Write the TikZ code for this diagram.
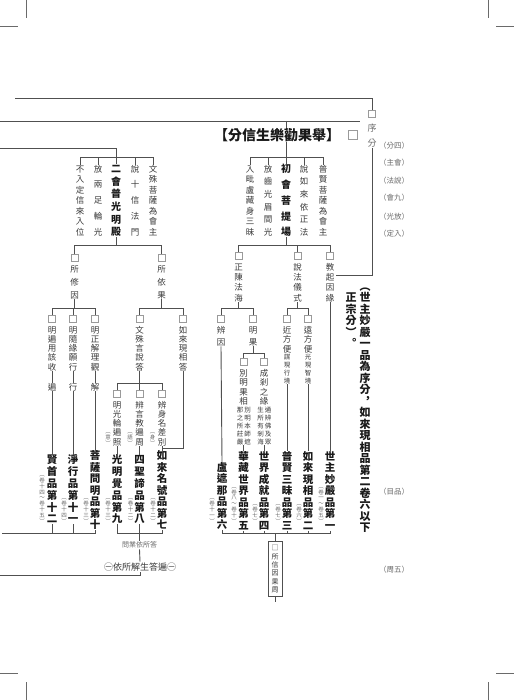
\documentclass[tikz,border=0pt]{standalone}
\usepackage{fontspec}
\usepackage{tikz}
\usetikzlibrary{positioning}
\newfontfamily\cjk{Noto Sans CJK TC}
\definecolor{lineGray}{HTML}{505050}
\definecolor{textGray}{HTML}{3A3A3A}
\definecolor{noteGray}{HTML}{6A6A6A}
\definecolor{boxGray}{HTML}{9A9A9A}

% vertical text: one character per line
\newcommand\vtstrut{\rule[-0.12em]{0pt}{1em}}
\newcommand\vt[1]{\vtaux#1\relax}
\def\vtaux#1#2{#1\vtstrut\ifx\relax#2\expandafter\vtgobble\else\expandafter\vtnext\fi#2}
\def\vtnext{\\\vtaux}
\def\vtgobble#1{}

\begin{document}
\begin{tikzpicture}[x=1pt, y=-1pt,
    link/.style={draw=lineGray, line width=0.9pt},
    cropline/.style={draw=noteGray, line width=0.6pt},
    sq/.style={draw=boxGray, line width=0.6pt, minimum size=7pt, inner sep=0pt},
    txt/.style={font=\cjk\fontsize{8.5}{#1}\selectfont, text=textGray, align=center, inner sep=0pt},
    txt/.default=10,
    subtxt/.style={font=\cjk\fontsize{6.5}{#1}\selectfont, text=textGray, align=center, inner sep=0pt},
    subtxt/.default=8,
    htxt/.style={font=\cjk\bfseries\fontsize{10}{#1}\selectfont, text=black!90, align=center, inner sep=0pt},
    pintxt/.style={font=\cjk\bfseries\fontsize{10.5}{#1}\selectfont, text=black!90, align=center, inner sep=0pt},
    notetxt/.style={font=\cjk\fontsize{5.5}{#1}\selectfont, text=noteGray, align=center, inner sep=0pt, anchor=south},
    notetxt/.default=5.8,
    bigtxt/.style={font=\cjk\bfseries\fontsize{11}{#1}\selectfont, text=black!90, align=center, inner sep=0pt},
    sidenote/.style={font=\cjk\fontsize{7.5}{8}\selectfont, text=noteGray, inner sep=0pt},
    titletxt/.style={font=\cjk\bfseries\fontsize{14}{16}\selectfont, text=black!90, inner sep=0pt}]

  \fill[white] (0,0) rectangle (514,700);
  \useasboundingbox (0,0) rectangle (514,700);

  % crop marks
  \draw[cropline] (0,26) -- (18,26);
  \draw[cropline] (26,0) -- (26,18);
  \draw[cropline] (488,0) -- (488,18);
  \draw[cropline] (496,26) -- (514,26);
  \draw[cropline] (0,673) -- (18,673);
  \draw[cropline] (26,682) -- (26,700);
  \draw[cropline] (496,673) -- (514,673);
  \draw[cropline] (488,682) -- (488,700);

  % levels
  \coordinate (topA) at (15,98);
  \coordinate (lineB) at (0,121);
  \coordinate (lineBend) at (360,121);
  \coordinate (lineC) at (0,148);
  \coordinate (lvA) at (0,157);
  \coordinate (lvB) at (0,245);
  \coordinate (lvC) at (0,308.5);
  \coordinate (lvE) at (0,353);
  \coordinate (lvD) at (0,383);
  \coordinate (lvF) at (0,533);
  \coordinate (lvFl) at (2,533);
  \coordinate (lineG) at (0,575);
  \coordinate (suoEnd) at (275,602);

  % xu fen
  \node[txt=15, font=\cjk\fontsize{9}{15}\selectfont, text=noteGray] (xufen) at (372,135.5) {\vt{序分}};
  \node[sq, above=6pt of xufen] (xuB) {};
  \foreach \t/\yy [count=\i] in {（分四）/146,（主會）/163,（法說）/181,（會九）/198,
                                 （光放）/217,（定入）/234,（目品）/492,（周五）/570}
    \node[sidenote] (side\i) at (394,\yy) {\t};

  \node[titletxt] (juguo) at (277,135) {【分信生樂勸果舉】};
  \node[sq, minimum size=9pt] (juguoB) at (353,135) {};

  % chu hui
  \node[txt=10.5] (chuA) at (250,200.5) {\vt{入毗盧藏身三昧}};
  \node[txt=12.6] (chuB) at (268,200.5) {\vt{放齒光眉間光}};
  \node[htxt=15.75] (chuhui) at (286,200.5) {\vt{初會菩提場}};
  \node[txt=12.6] (chuD) at (304,200.5) {\vt{說如來依正法}};
  \node[txt=10.5] (chuE) at (323,200.5) {\vt{普賢菩薩為會主}};

  % er hui
  \node[txt=10.5] (erA) at (80,200.5) {\vt{不入定信來入位}};
  \node[txt=15.75] (erB) at (98,200.5) {\vt{放兩足輪光}};
  \node[htxt=12.6] (erhui) at (116,200.5) {\vt{二會普光明殿}};
  \node[txt=15.75] (erD) at (135,200.5) {\vt{說十信法門}};
  \node[txt=10.5] (erE) at (153,200.5) {\vt{文殊菩薩為會主}};

  % third level
  \node[txt=13] (xiuyin) at (74.5,282) {\vt{所修因}};
  \node[txt=13] (yiguo) at (161.5,282) {\vt{所依果}};
  \node[txt=10.33] (zhengchen) at (238.5,282.5) {\vt{正陳法海}};
  \node[txt=10.33] (shuofa) at (297.5,282.5) {\vt{說法儀式}};
  \node[txt=10.33] (jiaoqi) at (330,282.5) {\vt{教起因緣}};
  \foreach \n in {xiuyin,yiguo,zhengchen,shuofa,jiaoqi}
    \node[sq, above=3pt of \n] (\n B) {};

  % fourth level
  \node[txt=9.25] (mingbian) at (52,348.5) {\vt{明遍用該收}};
  \node[txt=9.25] (mingsui) at (73,348.5) {\vt{明隨緣願行}};
  \node[txt=9.25] (mingzheng) at (95,348.5) {\vt{明正解理觀}};
  \node[txt] (bianC) at (52,387) {\vt{遍}};
  \node[txt] (xingC) at (73,387) {\vt{行}};
  \node[txt] (jieC) at (95,387) {\vt{解}};
  \node[txt=9.25] (wenshu) at (139.5,348.5) {\vt{文殊言說答}};
  \node[txt=9.25] (xianxiang) at (183,348.5) {\vt{如來現相答}};
  \node[txt=12] (bianyin) at (221,336) {\vt{辨因}};
  \node[txt=12] (mingguo) at (253,336) {\vt{明果}};
  \node[txt=9.5] (jinfang) at (287,339.5) {\vt{近方便}};
  \node[subtxt] (jinS) at (287,369) {\vt{謀現行境}};
  \node[txt=9.5] (yuanfang) at (308,339.5) {\vt{遠方便}};
  \node[subtxt] (yuanS) at (308,369) {\vt{光現智境}};
  \foreach \n in {mingbian,mingsui,mingzheng,wenshu,xianxiang,bianyin,mingguo,jinfang,yuanfang}
    \node[sq, above=3pt of \n] (\n B) {};

  % fifth level
  \node[txt=9.25] (guanglun) at (117,423.5) {\vt{明光輪遍照}};
  \node[txt=9.25] (yanjiao) at (139.5,423.5) {\vt{辨言教遍周}};
  \node[txt=9.25] (shenming) at (162,423.5) {\vt{辨身名差別}};
  \node[notetxt=6, anchor=center] (yiN) at (108,437.5) {\vt{︵意︶}};
  \node[notetxt=6, anchor=center] (yuN) at (130,437.5) {\vt{︵語︶}};
  \node[notetxt=6, anchor=center] (shenN) at (152.5,437.5) {\vt{︵身︶}};
  \node[txt=8.33] (bieming) at (243.5,387.5) {\vt{別明果相}};
  \node[subtxt] (biemingR) at (247.5,426) {\vt{別明本師遮}};
  \node[subtxt] (biemingL) at (240,426) {\vt{那之所莊嚴}};
  \node[txt=8.33] (chengcha) at (264,387.5) {\vt{成剎之緣}};
  \node[subtxt] (chengchaR) at (268,426) {\vt{通辨佛及眾}};
  \node[subtxt] (chengchaL) at (260.5,426) {\vt{生所有剎海}};
  \foreach \n in {guanglun,yanjiao,shenming,bieming,chengcha}
    \node[sq, above=3pt of \n] (\n B) {};

  % pin titles
  \node[pintxt=10.4] (pin6) at (222,496) {\vt{盧遮那品第六}};
  \node[pintxt=10.33] (pin5) at (243.5,491) {\vt{華藏世界品第五}};
  \node[pintxt=10.33] (pin4) at (264,491) {\vt{世界成就品第四}};
  \node[pintxt=10.33] (pin3) at (287,491) {\vt{普賢三昧品第三}};
  \node[pintxt=10.33] (pin2) at (308,491) {\vt{如來現相品第二}};
  \node[pintxt=10.33] (pin1) at (330,491) {\vt{世主妙嚴品第一}};
  \node[pintxt=11.8] (pin12) at (52,489.5) {\vt{賢首品第十二}};
  \node[pintxt=11.8] (pin11) at (73,489.5) {\vt{淨行品第十一}};
  \node[pintxt=10.17] (pin10) at (95,490.5) {\vt{菩薩問明品第十}};
  \node[pintxt=11.8] (pin9) at (117,489.5) {\vt{光明覺品第九}};
  \node[pintxt=11.8] (pin8) at (139.5,489.5) {\vt{四聖諦品第八}};
  \node[pintxt=10.17] (pin7) at (162,490.5) {\vt{如來名號品第七}};

  % juan notes
  \node[notetxt] (pin6N) at (212,524) {\vt{︵卷十一︶}};
  \node[notetxt] (pin5N) at (234,524) {\vt{︵卷八～卷十︶}};
  \node[notetxt] (pin4N) at (255,524) {\vt{︵卷七︶}};
  \node[notetxt] (pin3N) at (278,524) {\vt{︵卷七︶}};
  \node[notetxt] (pin2N) at (299,524) {\vt{︵卷六︶}};
  \node[notetxt] (pin1N) at (321,524) {\vt{︵卷一～卷五︶}};
  \node[notetxt] (pin12N) at (42,524) {\vt{︵卷十四～卷十五︶}};
  \node[notetxt] (pin11N) at (64,524) {\vt{︵卷十四︶}};
  \node[notetxt] (pin10N) at (86,524) {\vt{︵卷十三︶}};
  \node[notetxt] (pin9N) at (108,524) {\vt{︵卷十三︶}};
  \node[notetxt] (pin8N) at (130.5,524) {\vt{︵卷十二︶}};
  \node[notetxt] (pin7N) at (153,524) {\vt{︵卷十二︶}};

  % bottom
  \node[draw=lineGray, line width=0.8pt, font=\cjk\fontsize{7}{8.4}\selectfont, text=textGray,
        align=center, inner xsep=3.5pt, inner ysep=3pt] (suoxin) at (275,569) {\vt{□所信因果周}};
  \node[font=\cjk\fontsize{7}{8}\selectfont, text=noteGray, inner sep=1pt] (wenye) at (139.5,545) {問業依所答};
  \node[font=\cjk\fontsize{9}{10}\selectfont, text=textGray, inner sep=1pt] (shengda) at (140,567) {㊀依所解生答遍㊀};

  % right side text
  \node[bigtxt=11.5] (xuzong) at (365,406.75) {\vt{︵世主妙嚴一品為序分︐如來現相品第二卷六以下}};
  \node[bigtxt=11.5] (zhengzong) at (351,320.5) {\vt{正宗分︶︒}};

  % connectors
  \draw[link] (topA) -| (xuB.north);
  \draw[link] (xufen.south) |- ([xshift=2pt,yshift=7pt]jiaoqi.east);
  \draw[link] (lineB) -- (lineBend);
  \draw[link] (lineB -| chuhui.north) -- (juguo.north -| chuhui.north);
  \draw[link] (juguo.south -| chuhui.north) -- (chuhui.north);
  \draw[link] (chuA.north) |- (chuE.north |- lvA) -- (chuE.north);
  \draw[link] (chuB.north) -- (chuB.north |- lvA);
  \draw[link] (chuD.north) -- (chuD.north |- lvA);
  \draw[link] (lineC) -| (erhui.north);
  \draw[link] (erA.north) |- (erE.north |- lvA) -- (erE.north);
  \draw[link] (erB.north) -- (erB.north |- lvA);
  \draw[link] (erD.north) -- (erD.north |- lvA);

  \draw[link] (erhui.south) -- (erhui.south |- lvB);
  \draw[link] (xiuyinB.north) |- (yiguoB.north |- lvB) -- (yiguoB.north);
  \draw[link] (chuhui.south) -- (chuhui.south |- lvB);
  \draw[link] (zhengchenB.north) |- (jiaoqiB.north |- lvB) -- (jiaoqiB.north);
  \draw[link] (shuofaB.north) -- (shuofaB.north |- lvB);

  \draw[link] (xiuyin.south) -- (xiuyin.south |- lvC);
  \draw[link] (mingbianB.north) |- (mingzhengB.north |- lvC) -- (mingzhengB.north);
  \draw[link] (mingsuiB.north) -- (mingsuiB.north |- lvC);
  \draw[link] (yiguo.south) -- (yiguo.south |- lvC);
  \draw[link] (wenshuB.north) |- (xianxiangB.north |- lvC) -- (xianxiangB.north);
  \draw[link] (zhengchen.south) -- (zhengchen.south |- lvC);
  \draw[link] (bianyinB.north) |- (mingguoB.north |- lvC) -- (mingguoB.north);
  \draw[link] (shuofa.south) -- (shuofa.south |- lvC);
  \draw[link] (jinfangB.north) |- (yuanfangB.north |- lvC) -- (yuanfangB.north);

  \draw[link] (wenshu.south) -- (wenshu.south |- lvD);
  \draw[link] (guanglunB.north) |- (shenmingB.north |- lvD) -- (shenmingB.north);
  \draw[link] (yanjiaoB.north) -- (yanjiaoB.north |- lvD);
  \draw[link] (mingguo.south) -- (mingguo.south |- lvE);
  \draw[link] (biemingB.north) |- (chengchaB.north |- lvE) -- (chengchaB.north);

  \draw[link] (mingbian.south) -- (bianC.north);
  \draw[link] (bianC.south) -- (pin12.north);
  \draw[link] (mingsui.south) -- (xingC.north);
  \draw[link] (xingC.south) -- (pin11.north);
  \draw[link] (mingzheng.south) -- (jieC.north);
  \draw[link] (jieC.south) -- (pin10.north);
  \draw[link] (guanglun.south) -- (pin9.north);
  \draw[link] (yanjiao.south) -- (pin8.north);
  \draw[link] (shenming.south) -- (pin7.north);
  \draw[link] (xianxiang.south) |- ([yshift=2pt]pin7.north);
  \draw[link] (bianyin.south) -- (pin6.north);
  \draw[link] (biemingR.south -| pin5.north) -- (pin5.north);
  \draw[link] (chengchaR.south -| pin4.north) -- (pin4.north);
  \draw[link] (jinS.south) -- (pin3.north);
  \draw[link] (yuanS.south) -- (pin2.north);
  \draw[link] (jiaoqi.south) -- (pin1.north);

  \draw[link] (pin6.south) |- (pin1.south |- lvF) -- (pin1.south);
  \foreach \p in {pin5,pin4,pin3,pin2}
    \draw[link] (\p.south) -- (\p.south |- lvF);
  \draw[link] (suoxin.north |- lvF) -- (suoxin.north);
  \draw[link] (suoxin.south) -- (suoEnd);
  \draw[link] (lvFl) -| (pin10.south);
  \foreach \p in {pin12,pin11}
    \draw[link] (\p.south) -- (\p.south |- lvF);
  \draw[link] (pin9.south) |- (pin7.south |- lvF) -- (pin7.south);
  \draw[link] (pin8.south) -- (wenye.north);
  \draw[link] (wenye.south) -- (shengda.north);
  \draw[link] (shengda.south) |- (lineG);
\end{tikzpicture}
\end{document}
